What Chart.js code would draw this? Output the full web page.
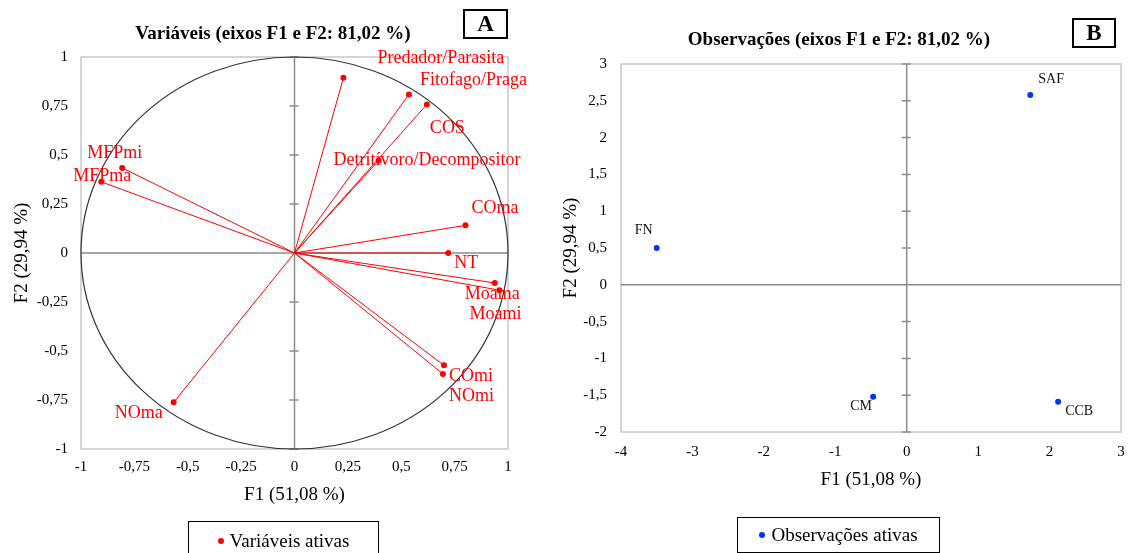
<!DOCTYPE html>
<html>
<head>
<meta charset="utf-8">
<script src="https://cdn.jsdelivr.net/npm/chart.js@4.4.1/dist/chart.umd.min.js"></script>
<style>
    html, body { margin: 0; padding: 0; background: #fff; }
    #wrap { position: relative; width: 1129px; height: 553px; overflow: hidden; background: #fff; font-family: "Liberation Serif", "Times New Roman", serif; }
    .box { position: absolute; }
    .ttl { position: absolute; width: 420px; text-align: center; font-weight: bold; font-size: 19px; line-height: 20px; color: #000; }
    .tag { position: absolute; border: 2.5px solid #000; box-sizing: border-box; text-align: center; font-weight: bold; font-size: 23px; line-height: 25px; color: #000; }
    .leg { position: absolute; border: 1.5px solid #000; box-sizing: border-box; display: flex; align-items: center; justify-content: center; font-size: 19px; color: #000; }
    .leg i { display: inline-block; width: 6px; height: 6px; border-radius: 50%; margin-right: 6px; }
</style>
</head>
<body>
<div id="wrap">
    <div class="box" style="left:0;top:0;width:560px;height:553px"><canvas id="chartA" width="560" height="553"></canvas></div>
    <div class="box" style="left:560px;top:0;width:569px;height:553px"><canvas id="chartB" width="569" height="553"></canvas></div>

    <div class="ttl" style="left:63px;top:23px">Variáveis (eixos F1 e F2: 81,02 %)</div>
    <div class="tag" style="left:463px;top:9px;width:45px;height:30px">A</div>
    <div class="leg" style="left:188px;top:521px;width:191px;height:40px"><i style="background:#ff0000"></i>Variáveis ativas</div>

    <div class="ttl" style="left:629px;top:29px">Observações (eixos F1 e F2: 81,02 %)</div>
    <div class="tag" style="left:1072px;top:18px;width:44px;height:30px">B</div>
    <div class="leg" style="left:737px;top:517px;width:203px;height:36px"><i style="background:#0033ff"></i>Observações ativas</div>
</div>

<script>
// --- data (A: variables, B: observations) ---
const variaveis = ['Predador/Parasita', 'Fitofago/Praga', 'COS', 'Detritívoro/Decompositor', 'MFPmi', 'MFPma', 'COma', 'NT', 'Moama', 'Moami', 'COmi', 'NOmi', 'NOma'];
const f1Var = [0.229, 0.536, 0.620, 0.394, -0.807, -0.905, 0.801, 0.720, 0.938, 0.960, 0.700, 0.695, -0.566];
const f2Var = [0.894, 0.809, 0.758, 0.472, 0.434, 0.363, 0.141, 0.000, -0.153, -0.190, -0.573, -0.617, -0.762];

const observacoes = ['SAF', 'FN', 'CM', 'CCB'];
const f1Obs = [1.73, -3.50, -0.47, 2.12];
const f2Obs = [2.58, 0.50, -1.52, -1.59];

const ticksA = [-1, -0.75, -0.5, -0.25, 0, 0.25, 0.5, 0.75, 1];
const xTicksB = [-4, -3, -2, -1, 0, 1, 2, 3];
const yTicksB = [-2, -1.5, -1, -0.5, 0, 0.5, 1, 1.5, 2, 2.5, 3];

// label placement, pixels from the point (left edge, vertical middle)
const labelOffA = [[34, -20], [11, -14], [3, 24], [-45, 0], [-35, -15], [-28, -6], [6, -17], [6, 10], [-30, 11], [-30, 24], [5, 11], [6, 22], [-59, 11]];
const labelOffB = [[8, -16], [-22, -18], [-23, 10], [7, 10]];

const SERIF = '"Liberation Serif", "Times New Roman", serif';
Chart.defaults.font.family = SERIF;
Chart.defaults.color = '#000';

const fmt = v => String(Math.round(v * 100) / 100).replace('.', ',');

// frame, zero axes with small ticks, optional unit circle
const framePlugin = {
    id: 'frame',
    beforeDatasetsDraw(chart, args, opts) {
        const { ctx, chartArea: a, scales: { x, y } } = chart;
        const x0 = x.getPixelForValue(0), y0 = y.getPixelForValue(0);
        ctx.save();
        ctx.lineWidth = 1.5;
        ctx.strokeStyle = '#c8c8c8';
        ctx.strokeRect(a.left, a.top, a.right - a.left, a.bottom - a.top);
        ctx.strokeStyle = '#8c8c8c';
        ctx.beginPath();
        ctx.moveTo(a.left, y0); ctx.lineTo(a.right, y0);
        ctx.moveTo(x0, a.top); ctx.lineTo(x0, a.bottom);
        y.ticks.forEach(t => {
            const py = y.getPixelForValue(t.value);
            ctx.moveTo(x0 - 5, py); ctx.lineTo(x0 + 4, py);
        });
        ctx.stroke();
        if (opts.circle) {
            ctx.strokeStyle = '#333';
            ctx.lineWidth = 1.2;
            ctx.beginPath();
            ctx.ellipse(x0, y0, x.getPixelForValue(1) - x0, y0 - y.getPixelForValue(1), 0, 0, Math.PI * 2);
            ctx.stroke();
        }
        ctx.restore();
    }
};

const labelPlugin = {
    id: 'pointLabels',
    afterDatasetsDraw(chart, args, opts) {
        const { ctx } = chart;
        ctx.save();
        ctx.font = opts.font;
        ctx.fillStyle = opts.color;
        ctx.textAlign = 'left';
        ctx.textBaseline = 'middle';
        opts.items.forEach(it => {
            const pt = chart.getDatasetMeta(it.ds).data[it.idx];
            ctx.fillText(it.text, pt.x + it.off[0], pt.y + it.off[1]);
        });
        ctx.restore();
    }
};

function axis(ticks, opts) {
    return Object.assign({
        type: 'linear',
        min: ticks[0],
        max: ticks[ticks.length - 1],
        afterBuildTicks: s => { s.ticks = ticks.map(v => ({ value: v })); },
        grid: { display: false, drawTicks: false },
        border: { display: false },
    }, opts);
}

// fixed box sizes so the plot areas land where the original has them
const fixHeight = h => s => { s.height = h; s.paddingLeft = 0; s.paddingRight = 0; };
const fixWidth = w => s => { s.width = w; s.paddingTop = 0; s.paddingBottom = 0; };

// chart A: correlation circle
new Chart(document.getElementById('chartA'), {
    type: 'scatter',
    data: {
        datasets: variaveis.map((name, i) => ({
            label: name,
            data: [{ x: 0, y: 0 }, { x: f1Var[i], y: f2Var[i] }],
            showLine: true,
            borderColor: '#ff0000',
            borderWidth: 1,
            backgroundColor: '#ff0000',
            pointRadius: ctx => ctx.dataIndex === 0 ? 0 : 3,
            pointBorderWidth: 0,
        }))
    },
    options: {
        responsive: false,
        animation: false,
        clip: false,
        layout: { padding: { top: 57, left: 0, right: 52, bottom: 44 } },
        plugins: {
            legend: { display: false },
            tooltip: { enabled: false },
            frame: { circle: true },
            pointLabels: {
                font: '18px ' + SERIF,
                color: '#ff0000',
                items: variaveis.map((t, i) => ({ ds: i, idx: 1, text: t, off: labelOffA[i] }))
            }
        },
        scales: {
            x: axis(ticksA, {
                afterFit: fixHeight(60),
                ticks: { font: { size: 15 }, padding: 9, callback: fmt, maxRotation: 0 },
                title: { display: true, text: 'F1 (51,08 %)', font: { size: 19 }, padding: { top: 0, bottom: 3 } }
            }),
            y: axis(ticksA, {
                afterFit: fixWidth(81),
                ticks: { font: { size: 15 }, padding: 13, callback: fmt },
                title: { display: true, text: 'F2 (29,94 %)', font: { size: 19 }, padding: { top: 11, bottom: 0 } }
            })
        }
    },
    plugins: [framePlugin, labelPlugin]
});

// chart B: observations
new Chart(document.getElementById('chartB'), {
    type: 'scatter',
    data: {
        datasets: [{
            label: 'Observações ativas',
            data: observacoes.map((n, i) => ({ x: f1Obs[i], y: f2Obs[i] })),
            backgroundColor: '#0033ff',
            pointRadius: 3,
            pointBorderWidth: 0,
        }]
    },
    options: {
        responsive: false,
        animation: false,
        layout: { padding: { top: 64, left: 0, right: 8, bottom: 61 } },
        plugins: {
            legend: { display: false },
            tooltip: { enabled: false },
            frame: { circle: false },
            pointLabels: {
                font: '14px ' + SERIF,
                color: '#111',
                items: observacoes.map((t, i) => ({ ds: 0, idx: i, text: t, off: labelOffB[i] }))
            }
        },
        scales: {
            x: axis(xTicksB, {
                afterFit: fixHeight(60),
                ticks: { font: { size: 15 }, padding: 11, callback: fmt, maxRotation: 0 },
                title: { display: true, text: 'F1 (51,08 %)', font: { size: 19 }, padding: { top: 0, bottom: 1 } }
            }),
            y: axis(yTicksB, {
                afterFit: fixWidth(61),
                ticks: { font: { size: 15 }, padding: 14, callback: fmt },
                title: { display: true, text: 'F2 (29,94 %)', font: { size: 19 }, padding: { top: 0, bottom: 0 } }
            })
        }
    },
    plugins: [framePlugin, labelPlugin]
});
</script>
</body>
</html>
